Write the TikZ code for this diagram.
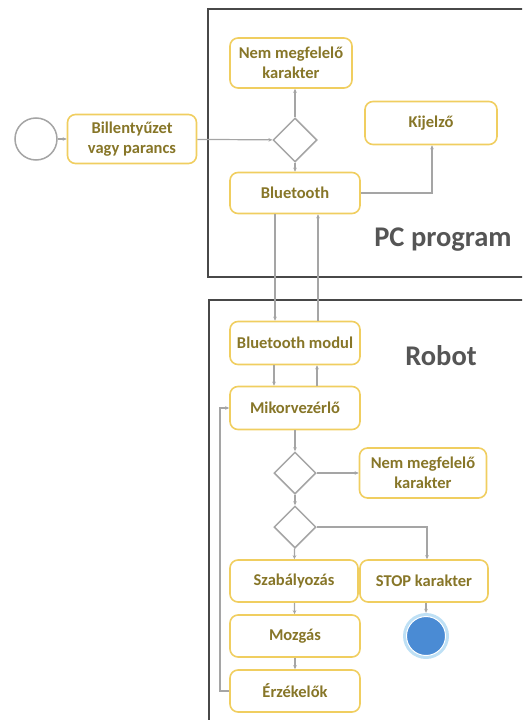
\documentclass[tikz,border=0pt]{standalone}
\usepackage{fontspec}
\setmainfont{Carlito}
\usetikzlibrary{shapes.geometric,arrows.meta}

\definecolor{boxline}{RGB}{240,206,96}
\definecolor{boxtext}{RGB}{135,118,40}
\definecolor{flow}{RGB}{165,165,165}
\definecolor{frameline}{RGB}{72,72,72}
\definecolor{titletext}{RGB}{85,85,85}
\definecolor{endfill}{RGB}{74,139,212}
\definecolor{endring}{RGB}{190,224,245}

\tikzset{
  activity/.style={draw=boxline, line width=1.6pt, fill=white, rounded corners=8pt,
    align=center, inner sep=0pt, text=boxtext,
    font=\fontsize{16.5}{20}\selectfont\bfseries},
  decision/.style={diamond, draw=flow, line width=1.5pt, fill=white, aspect=1,
    minimum width=44pt, minimum height=44pt, inner sep=0pt},
  flowline/.style={draw=flow, line width=1.2pt, -{Stealth[length=4pt,width=3.6pt]}},
  container/.style={draw=frameline, line width=2.4pt},
  title/.style={text=titletext, font=\fontsize{28.5}{32}\selectfont\bfseries}
}

\begin{document}
\begin{tikzpicture}[x=1pt,y=-1pt]
  \useasboundingbox (0,0) rectangle (522,720);
  \clip (0,0) rectangle (522,720);

  % swimlane frames, open towards the right
  \draw[container] (600,9) -- (208,9) -- (208,277) -- (600,277);
  \draw[container] (600,300) -- (209,300) -- (209,760);
  \node[title] (pctitle) at (443,240) {PC program};
  \node[title] (robottitle) at (441,356) {Robot};

  % start and end
  \node[circle, draw=flow, line width=1.5pt, fill=white, minimum size=42pt, inner sep=0pt] (start) at (36,139) {};
  \node[circle, fill=endring, minimum size=46pt, inner sep=0pt] (endring) at (426,636) {};
  \node[circle, fill=endfill, draw=white, line width=1pt, minimum size=39pt, inner sep=0pt] (finish) at (426,636) {};

  % PC program activities
  \node[activity, minimum width=129pt, minimum height=49pt] (bill) at (132,139) {Billentyűzet\\vagy parancs};
  \node[activity, minimum width=122pt, minimum height=50pt] (nem1) at (291,63) {Nem megfelelő\\karakter};
  \node[decision] (dia0) at (295,140) {};
  \node[activity, minimum width=132pt, minimum height=43pt] (kij) at (431,123) {Kijelző};
  \node[activity, minimum width=130pt, minimum height=41pt] (bt) at (295,193) {Bluetooth};

  % robot activities
  \node[activity, minimum width=130pt, minimum height=43pt] (btm) at (295,343) {Bluetooth modul};
  \node[activity, minimum width=130pt, minimum height=43pt] (mik) at (295,408) {Mikorvezérlő};
  \node[decision, minimum width=42pt, minimum height=42pt] (dia1) at (295,473) {};
  \node[activity, minimum width=127pt, minimum height=50pt] (nem2) at (423,473) {Nem megfelelő\\karakter};
  \node[decision, minimum width=42pt, minimum height=42pt] (dia2) at (295,527) {};
  \node[activity, minimum width=128pt, minimum height=42pt] (szab) at (294,581) {Szabályozás};
  \node[activity, minimum width=128pt, minimum height=42pt] (stop) at (424,581) {STOP karakter};
  \node[activity, minimum width=130pt, minimum height=42pt] (moz) at (295,636) {Mozgás};
  \node[activity, minimum width=130pt, minimum height=42pt] (erz) at (295,691) {Érzékelők};

  \coordinate (kijturn) at (432,193);
  \coordinate (stopturn) at (427,527);
  \coordinate (backlow) at (220,691);
  \coordinate (backhigh) at (220,408);

  % PC program flow
  \draw[flowline] (start) -- (bill);
  \draw[flowline] (bill) -- (dia0);
  \draw[flowline] (dia0) -- (dia0 |- nem1.south);
  \draw[flowline] (dia0) -- (bt);
  \draw[flowline] (bt.east) -- (kijturn) -- (kijturn |- kij.south);

  % link between PC and robot
  \draw[flowline] ([xshift=-20pt]bt.south) -- ([xshift=-20pt]btm.north);
  \draw[flowline] ([xshift=23pt]btm.north) -- ([xshift=23pt]bt.south);

  % robot flow
  \draw[flowline] ([xshift=-21pt]btm.south) -- ([xshift=-21pt]mik.north);
  \draw[flowline] ([xshift=22pt]mik.north) -- ([xshift=22pt]btm.south);
  \draw[flowline] (mik) -- (dia1);
  \draw[flowline] (dia1) -- (nem2);
  \draw[flowline] (dia1) -- (dia2);
  \draw[flowline] (dia2) -- (szab);
  \draw[flowline] (dia2.east) -- (stopturn) -- (stop.north -| stopturn);
  \draw[flowline] (szab) -- (moz);
  \draw[flowline] (moz) -- (erz);
  \draw[flowline] (stop.south -| finish) -- (endring);
  \draw[flowline] (erz.west) -- (backlow) -- (backhigh) -- (mik.west);
\end{tikzpicture}
\end{document}
